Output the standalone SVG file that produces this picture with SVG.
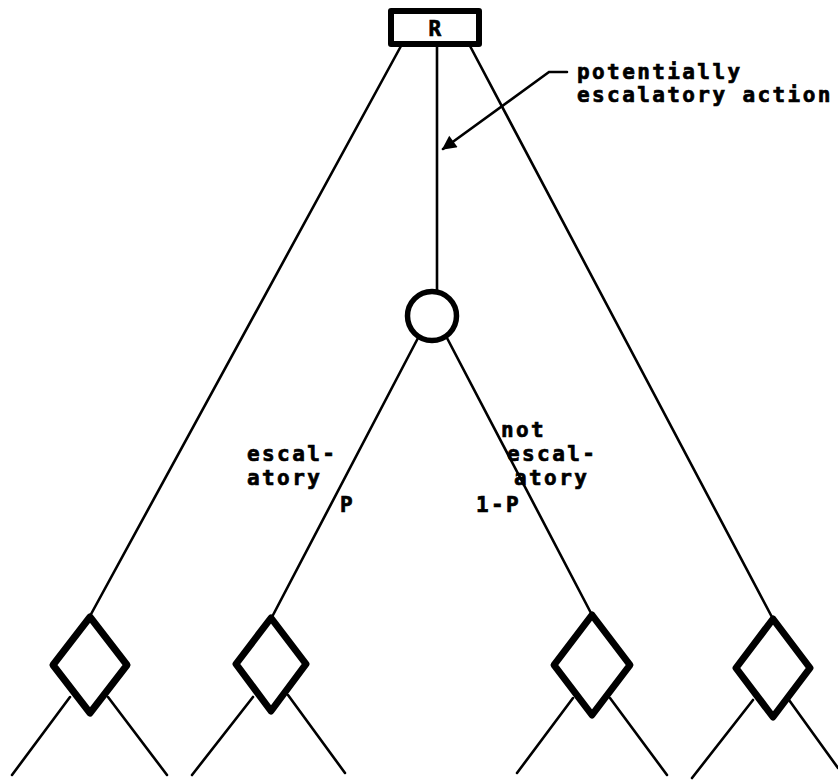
<svg xmlns="http://www.w3.org/2000/svg" width="838" height="780" viewBox="0 0 838 780">
  <defs>
    <style>
      .edge { stroke: #000; stroke-width: 2.6; fill: none; stroke-linecap: round; }
      .node { stroke: #000; fill: #fff; stroke-linejoin: round; }
      .lbl { font-family: "DejaVu Sans Mono", "Liberation Mono", monospace; font-weight: bold; font-size: 21px; letter-spacing: 2.4px; fill: #000; stroke: #000; stroke-width: 0.7px; }
    </style>
    <marker id="arrow" viewBox="0 0 10 10" refX="9" refY="5" markerWidth="8.5" markerHeight="5.5" markerUnits="strokeWidth" orient="auto">
      <path d="M0,0 L10,5 L0,10 z" fill="#000"/>
    </marker>
  </defs>
  <rect width="838" height="780" fill="#fff"/>

  <!-- connectors -->
  <g id="connectors">
    <line class="edge" x1="401" y1="46" x2="90" y2="616"/>
    <line class="edge" x1="470" y1="46" x2="773" y2="619"/>
    <line class="edge" x1="437" y1="46" x2="437" y2="292"/>
    <line class="edge" x1="418" y1="338" x2="272" y2="617"/>
    <line class="edge" x1="447" y1="338" x2="592" y2="615"/>
    <!-- leaf branches -->
    <line class="edge" x1="70" y1="697" x2="12" y2="775"/>
    <line class="edge" x1="108" y1="697" x2="167" y2="775"/>
    <line class="edge" x1="253" y1="697" x2="192" y2="775"/>
    <line class="edge" x1="288" y1="695" x2="345" y2="773"/>
    <line class="edge" x1="573" y1="698" x2="517" y2="773"/>
    <line class="edge" x1="610" y1="698" x2="667" y2="775"/>
    <line class="edge" x1="753" y1="700" x2="692" y2="778"/>
    <line class="edge" x1="789" y1="700" x2="838" y2="768"/>
    <!-- callout leader -->
    <polyline class="edge" points="567,72 549,72 443,149" marker-end="url(#arrow)"/>
  </g>

  <g id="root">
    <rect class="node" x="391" y="11" width="88" height="33" stroke-width="6"/>
    <text class="lbl" x="436" y="36" text-anchor="middle" letter-spacing="0">R</text>
  </g>

  <g id="chance">
    <circle class="node" cx="432" cy="316" r="24.5" stroke-width="5.5"/>
  </g>

  <g id="leaf1">
    <polygon class="node" points="90,617 127,665 90,713 53,665" stroke-width="7"/>
  </g>
  <g id="leaf2">
    <polygon class="node" points="271,618 306,664 271,711 236,664" stroke-width="7"/>
  </g>
  <g id="leaf3">
    <polygon class="node" points="592,615 630,665 592,715 554,665" stroke-width="7"/>
  </g>
  <g id="leaf4">
    <polygon class="node" points="773,619 810,668 773,717 736,668" stroke-width="7"/>
  </g>

  <g id="labels">
    <text class="lbl" x="577" y="79">potentially</text>
    <text class="lbl" x="577" y="102">escalatory action</text>
    <text class="lbl" x="247" y="461">escal-</text>
    <text class="lbl" x="247" y="485">atory</text>
    <text class="lbl" x="340" y="512">P</text>
    <text class="lbl" x="501" y="437">not</text>
    <text class="lbl" x="507" y="461">escal-</text>
    <text class="lbl" x="514" y="485">atory</text>
    <text class="lbl" x="476" y="512">1-P</text>
  </g>
</svg>
